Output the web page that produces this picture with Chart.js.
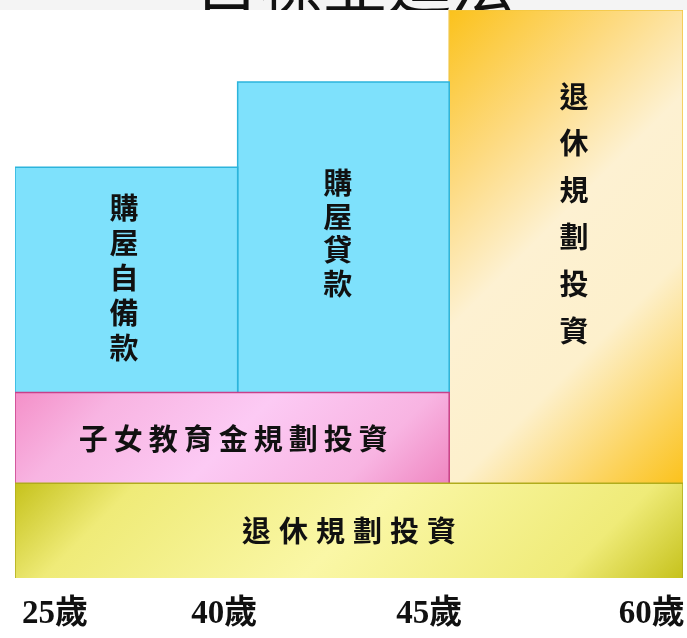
<!DOCTYPE html>
<html>
<head>
<meta charset="utf-8">
<script src="https://cdn.jsdelivr.net/npm/chart.js@4.4.1/dist/chart.umd.min.js"></script>
<style>
  html, body { margin: 0; padding: 0; background: #ffffff; }
  #wrap { width: 687px; height: 638px; position: relative; }
</style>
</head>
<body>
<div id="wrap"><canvas id="plan"></canvas></div>
<script>
// 目標並進法 - planning blocks by age
const ageLabels = ['25歲', '40歲', '45歲', '60歲'];
const agePos = [0.18, 0.94, 1.86, 2.86];

const blockNames = ['退休規劃投資', '子女教育金規劃投資', '購屋自備款', '購屋貸款', '退休規劃投資'];
const blockStart = [0, 0, 0, 1, 1.95];
const blockEnd = [3, 1.95, 1, 1.95, 3];
const blockLow = [0, 1, 1.96, 1.96, 1];
const blockHigh = [1, 1.96, 4.34, 5.24, 6];
const labelX = [1.5, 0.98, 0.49, 1.45, 2.51];
const labelY = [0.5, 1.47, 3.17, 3.64, 3.85];

// styles
const vertical = [false, false, true, true, true];
const pitch = [37, 35, 35, 33.7, 46.8];
const gradStops = [
  [[0, '#c6c21c'], [0.16, '#efeb78'], [0.5, '#faf7a6'], [0.84, '#efeb78'], [1, '#c6c21c']],
  [[0, '#f490c8'], [0.2, '#f8b4e2'], [0.5, '#fccaf4'], [0.8, '#f8b4e2'], [1, '#ef86c0']],
  null,
  null,
  [[0, '#fbc21c'], [0.25, '#fdda80'], [0.45, '#fdf1d2'], [0.68, '#fdf0cc'], [0.88, '#fcd35c'], [1, '#fbc21c']]
];
const flatColor = ['#f4f088', '#f9b8e4', '#7ee1fc', '#7ee1fc', '#fde7b0'];
const edgeColor = ['#b0ac1c', '#c8408a', '#2cb4dc', '#2cb4dc', '#f2c640'];

function blockFill(i) {
  return (ctx) => {
    const chart = ctx.chart;
    if (!chart.chartArea || !gradStops[i]) return flatColor[i];
    const xs = chart.scales.x, ys = chart.scales.y;
    const x0 = xs.getPixelForValue(blockStart[i]);
    const x1 = xs.getPixelForValue(blockEnd[i]);
    const y0 = ys.getPixelForValue(blockHigh[i]);
    const y1 = ys.getPixelForValue(blockLow[i]);
    const L = ((x1 - x0) + (y1 - y0)) / 2;
    const g = chart.ctx.createLinearGradient(x0, y0, x0 + L, y0 + L);
    gradStops[i].forEach(s => g.addColorStop(s[0], s[1]));
    return g;
  };
}

const datasets = blockNames.map((name, i) => ({
  label: name,
  data: [
    { x: blockStart[i], y: blockLow[i] },
    { x: blockStart[i], y: blockHigh[i] },
    { x: blockEnd[i], y: blockHigh[i] },
    { x: blockEnd[i], y: blockLow[i] }
  ],
  fill: { value: blockLow[i] },
  backgroundColor: blockFill(i),
  borderColor: edgeColor[i],
  borderWidth: 1.5,
  pointRadius: 0,
  tension: 0
}));

const blockText = {
  id: 'blockText',
  beforeDraw(chart) {
    const { ctx, chartArea } = chart;
    ctx.save();
    ctx.beginPath();
    ctx.rect(0, 0, chart.width, chartArea.top);
    ctx.clip();
    ctx.fillStyle = '#f4f4f4';
    ctx.fillRect(0, 0, chart.width, chartArea.top);
    ctx.fillStyle = '#111111';
    ctx.font = '400 64px "Noto Sans CJK TC"';
    ctx.textAlign = 'center';
    ctx.textBaseline = 'alphabetic';
    ctx.fillText('目標並進法', 355, chartArea.top - 2);
    ctx.restore();
  },
  afterDatasetsDraw(chart) {
    const { ctx } = chart;
    const xs = chart.scales.x, ys = chart.scales.y;
    ctx.save();
    ctx.fillStyle = '#111111';
    ctx.font = '700 29px "Noto Sans CJK TC"';
    ctx.textAlign = 'center';
    ctx.textBaseline = 'middle';
    blockNames.forEach((name, i) => {
      const cx = xs.getPixelForValue(labelX[i]);
      const cy = ys.getPixelForValue(labelY[i]);
      const chars = Array.from(name);
      const n = chars.length;
      chars.forEach((c, k) => {
        const off = (k - (n - 1) / 2) * pitch[i];
        if (vertical[i]) ctx.fillText(c, cx, cy + off);
        else ctx.fillText(c, cx + off, cy);
      });
    });
    ctx.restore();
  }
};

new Chart(document.getElementById('plan'), {
  type: 'line',
  data: { datasets },
  options: {
    responsive: true,
    maintainAspectRatio: false,
    animation: false,
    layout: { padding: { top: 10, left: 15, right: 4, bottom: 0 } },
    plugins: {
      legend: { display: false },
      tooltip: { enabled: false },
      title: { display: false }
    },
    scales: {
      x: {
        type: 'linear',
        min: 0,
        max: 3,
        grid: { display: false, drawTicks: false },
        border: { display: false },
        afterBuildTicks: (axis) => { axis.ticks = agePos.map(v => ({ value: v })); },
        afterFit: (axis) => {
          axis.paddingLeft = 0;
          axis.paddingRight = 0;
          axis.height = 60;
        },
        ticks: {
          autoSkip: false,
          maxRotation: 0,
          padding: 17,
          color: '#111111',
          font: { family: '"Liberation Serif", "Noto Sans CJK TC"', size: 33, weight: 'bold' },
          callback: (value, index) => ageLabels[index]
        }
      },
      y: {
        type: 'linear',
        min: 0,
        max: 6,
        display: false
      }
    }
  },
  plugins: [blockText]
});
</script>
</body>
</html>
